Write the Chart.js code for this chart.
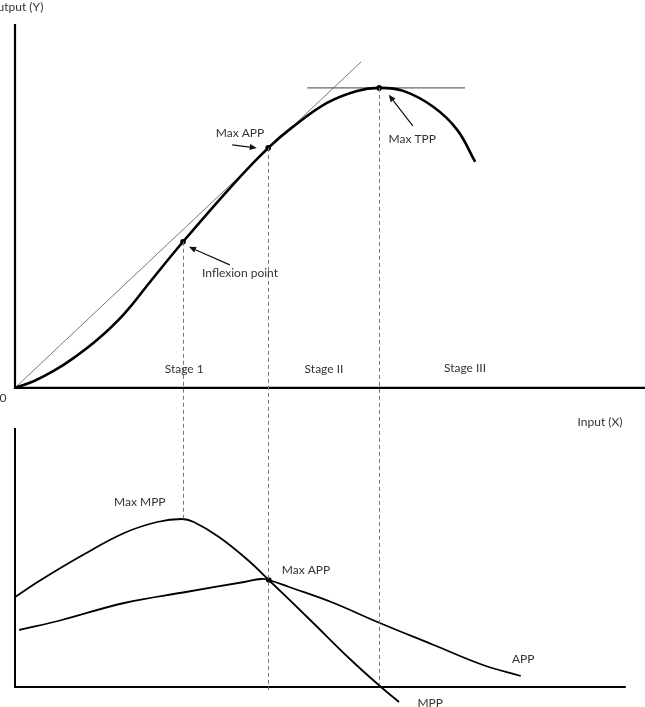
<!DOCTYPE html>
<html>
<head>
<meta charset="utf-8">
<script src="https://cdn.jsdelivr.net/npm/chart.js@4"></script>
<style>
html,body{margin:0;padding:0;background:#fff;}
#wrap{width:645px;height:707px;position:relative;}
</style>
</head>
<body>
<div id="wrap"><canvas id="c" width="645" height="707"></canvas></div>
<script>
// ---- data (input units X, output units Y for TPP, units V for MPP/APP) ----
const tppX = [0, 0.32, 0.65, 0.98, 1.37, 1.82, 2.25, 2.8, 3.63, 4.22, 4.63, 5.2, 5.7, 6.07, 6.47, 6.97, 7.37, 7.67];
const tppY = [0, 2.3, 5.7, 10, 16, 24.7, 35.3, 48.7, 67.7, 80, 87, 95, 99, 100, 99, 93.7, 86, 75.3];

const mppX = [0, 0.43, 1.13, 1.82, 2.37, 2.78, 2.98, 3.4, 3.88, 4.23, 4.92, 5.6, 6.1, 6.4];
const mppV = [45, 53.5, 66, 77, 82.5, 84, 82.5, 75, 63.5, 53.5, 33.5, 13.5, 0, -7.5];

const appX = [0.07, 0.78, 1.82, 2.85, 3.82, 4.1, 4.23, 4.57, 5.27, 6.08, 6.98, 7.8, 8.43];
const appV = [28.5, 33.5, 42, 47.5, 52.5, 54, 53.5, 50, 42.5, 32, 21, 11, 5.5];

const rayX = [0, 5.77];
const rayY = [0, 108.7];
const flatX = [4.87, 7.5];
const flatY = [100, 100];

// key points: inflexion, max APP, max TPP (top) ; max APP (bottom)
const keyTopX = [2.8, 4.22, 6.07];
const keyTopY = [48.7, 80, 100];
const keyBotX = [4.23];
const keyBotV = [53.5];

// stage boundaries: x, top value (Y), bottom end (V)
const guideX = [2.8, 4.22, 6.07];
const guideTopY = [48.7, 80, 100];
const guideBotV = [84, -1.5, 1];

// axis extents
const topAxisYmax = 121.3;
const botAxisVmax = 129.5;
const topAxisXmax = 10.75;
const botAxisXmax = 10.18;

// text labels: [text, x, value, axis, align]
const labels = [
  ["Output (Y)", -0.45, 127, "y", "left"],
  ["0", -0.2, -3.3, "y", "center"],
  ["Max APP", 3.75, 85, "y", "center"],
  ["Max TPP", 6.62, 83, "y", "center"],
  ["Inflexion point", 3.75, 38.3, "y", "center"],
  ["Stage 1", 2.82, 6.3, "y", "center"],
  ["Stage II", 5.15, 6.3, "y", "center"],
  ["Stage III", 7.5, 6.7, "y", "center"],
  ["Input (X)", 9.75, 132.5, "y2", "center"],
  ["Max MPP", 2.08, 92.5, "y2", "center"],
  ["Max APP", 4.85, 58.5, "y2", "center"],
  ["APP", 8.47, 14, "y2", "center"],
  ["MPP", 6.92, -8, "y2", "center"]
];
// arrows: x0, y0 -> x1, y1 (head at end), top scale
const arrows = [
  [3.62, 81, 4.03, 80],
  [6.63, 87.3, 6.23, 97.7],
  [3.58, 41, 2.9, 47]
];

const pts = (xs, ys) => xs.map((x, i) => ({x: x, y: ys[i]}));

const overlay = {
  id: 'overlay',
  afterDatasetsDraw(chart) {
    const ctx = chart.ctx;
    const sx = chart.scales.x, sy = chart.scales.y, s2 = chart.scales.y2;
    ctx.save();
    // axes
    ctx.strokeStyle = '#000';
    ctx.lineCap = 'butt';
    ctx.lineWidth = 2.2;
    ctx.beginPath();
    ctx.moveTo(sx.getPixelForValue(0), sy.getPixelForValue(topAxisYmax));
    ctx.lineTo(sx.getPixelForValue(0), sy.getPixelForValue(0));
    ctx.lineTo(sx.getPixelForValue(topAxisXmax), sy.getPixelForValue(0));
    ctx.stroke();
    ctx.lineWidth = 2;
    ctx.beginPath();
    ctx.moveTo(sx.getPixelForValue(0), s2.getPixelForValue(botAxisVmax));
    ctx.lineTo(sx.getPixelForValue(0), s2.getPixelForValue(0));
    ctx.lineTo(sx.getPixelForValue(botAxisXmax), s2.getPixelForValue(0));
    ctx.stroke();
    // dashed guides
    ctx.strokeStyle = '#777';
    ctx.lineWidth = 1;
    ctx.setLineDash([4, 3]);
    guideX.forEach((gx, i) => {
      const px = Math.round(sx.getPixelForValue(gx)) + 0.5;
      ctx.beginPath();
      ctx.moveTo(px, sy.getPixelForValue(guideTopY[i]));
      ctx.lineTo(px, s2.getPixelForValue(guideBotV[i]));
      ctx.stroke();
    });
    ctx.setLineDash([]);
    // arrows
    ctx.strokeStyle = '#111';
    ctx.fillStyle = '#111';
    ctx.lineWidth = 1.2;
    arrows.forEach(a => {
      const x0 = sx.getPixelForValue(a[0]), y0 = sy.getPixelForValue(a[1]);
      const x1 = sx.getPixelForValue(a[2]), y1 = sy.getPixelForValue(a[3]);
      const ang = Math.atan2(y1 - y0, x1 - x0);
      const hl = 7, hw = 3;
      const bx = x1 - hl * Math.cos(ang), by = y1 - hl * Math.sin(ang);
      ctx.beginPath();
      ctx.moveTo(x0, y0);
      ctx.lineTo(bx, by);
      ctx.stroke();
      ctx.beginPath();
      ctx.moveTo(x1, y1);
      ctx.lineTo(bx + hw * Math.sin(ang), by - hw * Math.cos(ang));
      ctx.lineTo(bx - hw * Math.sin(ang), by + hw * Math.cos(ang));
      ctx.closePath();
      ctx.fill();
    });
    // text
    ctx.fillStyle = '#333';
    ctx.font = '12px Lato, "Open Sans", sans-serif';
    ctx.textBaseline = 'middle';
    labels.forEach(l => {
      const sc = l[3] === 'y' ? sy : s2;
      ctx.textAlign = l[4];
      ctx.fillText(l[0], sx.getPixelForValue(l[1]), sc.getPixelForValue(l[2]));
    });
    ctx.restore();
  }
};

new Chart(document.getElementById('c'), {
  type: 'scatter',
  data: {
    datasets: [
      {data: pts(tppX, tppY), yAxisID: 'y', showLine: true, borderColor: '#000', borderWidth: 2.6, pointRadius: 0, tension: 0.4},
      {data: pts(rayX, rayY), yAxisID: 'y', showLine: true, borderColor: '#555', borderWidth: 0.8, pointRadius: 0},
      {data: pts(flatX, flatY), yAxisID: 'y', showLine: true, borderColor: '#666', borderWidth: 1.2, pointRadius: 0},
      {data: pts(mppX, mppV), yAxisID: 'y2', showLine: true, borderColor: '#000', borderWidth: 1.8, pointRadius: 0, tension: 0.4},
      {data: pts(appX, appV), yAxisID: 'y2', showLine: true, borderColor: '#000', borderWidth: 1.8, pointRadius: 0, tension: 0.4},
      {data: pts(keyTopX, keyTopY), yAxisID: 'y', showLine: false, pointRadius: 2.8, pointHoverRadius: 0, pointBackgroundColor: '#000', pointBorderWidth: 0},
      {data: pts(keyBotX, keyBotV), yAxisID: 'y2', showLine: false, pointRadius: 2.8, pointHoverRadius: 0, pointBackgroundColor: '#000', pointBorderWidth: 0}
    ]
  },
  options: {
    responsive: false,
    animation: false,
    layout: {padding: 0, autoPadding: false},
    elements: {point: {hoverRadius: 0}},
    plugins: {legend: {display: false}, tooltip: {enabled: false}},
    scales: {
      x: {type: 'linear', display: false, min: -0.25, max: 10.5},
      y: {type: 'linear', display: false, min: -106.4, max: 129.3},
      y2: {type: 'linear', display: false, min: -10, max: 343.5}
    }
  },
  plugins: [overlay]
});
</script>
</body>
</html>
